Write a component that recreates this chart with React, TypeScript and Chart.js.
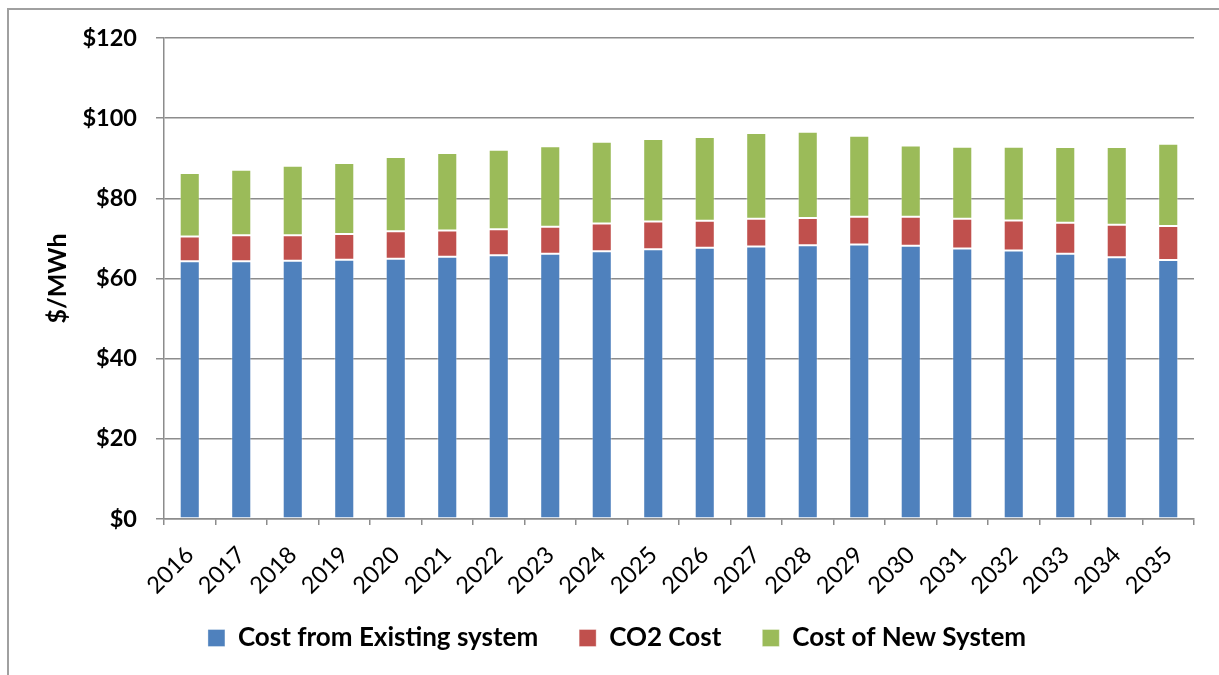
import React, { useEffect, useRef } from "react";
import { Chart, registerables } from "chart.js";

Chart.register(...registerables);

const years = ["2016","2017","2018","2019","2020","2021","2022","2023","2024","2025","2026","2027","2028","2029","2030","2031","2032","2033","2034","2035"];
const existingCost = [64.3,64.3,64.4,64.7,64.9,65.4,65.8,66.2,66.8,67.3,67.7,68.0,68.3,68.5,68.2,67.5,67.0,66.2,65.3,64.6];
const co2Cost = [6.2,6.5,6.4,6.4,6.9,6.6,6.5,6.7,6.9,6.9,6.7,6.9,6.8,6.9,7.2,7.4,7.5,7.7,8.1,8.5];
const newSystemCost = [15.8,16.3,17.3,17.7,18.5,19.3,19.8,20.1,20.4,20.6,20.9,21.4,21.5,20.2,17.8,18.0,18.4,18.9,19.4,20.5];
const seriesNames = ["Cost from Existing system", "CO2 Cost", "Cost of New System"];
const yTitle = "$/MWh";

const FONT = "Lato, 'Open Sans', sans-serif";
const GRID = "#8c8c8c";

const framePlugin = {
  id: "frame",
  afterLayout(chart: any) {
    // let rotated x labels extend below the scale box (avoid clipping)
    const xs = chart.scales.x;
    if (xs) xs.bottom = chart.height;
  },
  beforeDraw(chart: any) {
    const ctx = chart.ctx;
    ctx.save();
    ctx.fillStyle = "#ffffff";
    ctx.fillRect(0, 0, chart.width, chart.height);
    ctx.fillStyle = "#a0a0a0";
    ctx.fillRect(7, 8, 2, chart.height - 8);
    ctx.fillRect(7, 8, chart.width - 7, 2);
    ctx.restore();
  },
};

export default function App() {
  const ref = useRef<HTMLCanvasElement | null>(null);
  useEffect(() => {
    if (!ref.current) return;
    const chart = new Chart(ref.current, {
      type: "bar",
      data: {
        labels: years,
        datasets: [
          { label: seriesNames[0], data: existingCost, backgroundColor: "#4F81BD", borderColor: "rgba(255,255,255,0.35)", borderWidth: 1, borderSkipped: false as any },
          { label: seriesNames[1], data: co2Cost, backgroundColor: "#C0504D", borderColor: "rgba(255,255,255,0.35)", borderWidth: 1, borderSkipped: false as any },
          { label: seriesNames[2], data: newSystemCost, backgroundColor: "#9BBB59", borderColor: "rgba(255,255,255,0.35)", borderWidth: 1, borderSkipped: false as any },
        ],
      },
      options: {
        responsive: false,
        animation: false,
        layout: { padding: { left: 40, right: 25, top: 38, bottom: 14 } },
        datasets: { bar: { categoryPercentage: 1, barPercentage: 0.39 } },
        plugins: {
          tooltip: { enabled: false },
          legend: {
            position: "bottom",
            labels: {
              boxWidth: 17,
              boxHeight: 17,
              padding: 41,
              color: "#000",
              font: { family: FONT, size: 26, weight: "bold" },
            },
          },
        },
        scales: {
          x: {
            stacked: true,
            afterFit: (s: any) => { s.height = 65; },
            grid: { display: true, drawOnChartArea: false, drawTicks: true, tickLength: 6, color: GRID, lineWidth: 1.5, offset: true },
            border: { display: true, color: GRID, width: 1.5 },
            ticks: { autoSkip: false, minRotation: 45, maxRotation: 45, color: "#000", padding: 16, font: { family: FONT, size: 23.5 } },
          },
          y: {
            stacked: true,
            min: 0,
            max: 120,
            afterFit: (s: any) => { s.width = 124; },
            grid: { color: GRID, lineWidth: 1.5, tickLength: 8, drawTicks: true },
            border: { display: true, color: GRID, width: 1.5 },
            ticks: {
              stepSize: 20,
              padding: 19,
              color: "#000",
              font: { family: FONT, size: 23.5, weight: "bold" },
              callback: (v: any) => "$" + v,
            },
            title: {
              display: true,
              text: yTitle,
              color: "#000",
              padding: { top: 3, bottom: 0 },
              font: { family: FONT, size: 25, weight: "bold" },
            },
          },
        },
      },
      plugins: [framePlugin],
    });
    return () => chart.destroy();
  }, []);
  return (
    <div style={{ position: "absolute", left: 0, top: 0, width: 1219, height: 675 }}>
      <canvas ref={ref} width={1219} height={675} />
    </div>
  );
}
